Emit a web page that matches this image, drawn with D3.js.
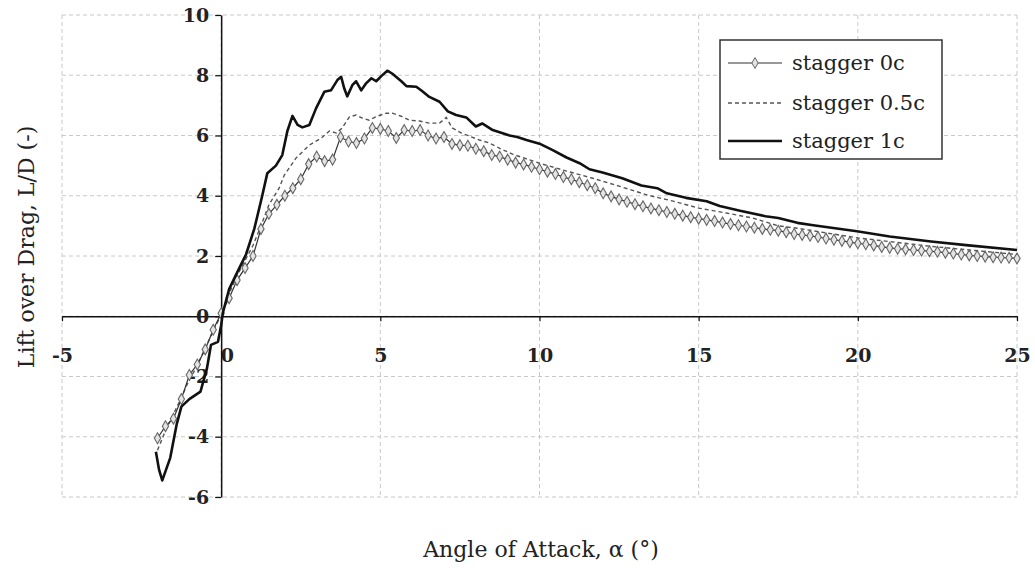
<!DOCTYPE html>
<html>
<head>
<meta charset="utf-8">
<script src="https://cdn.jsdelivr.net/npm/d3@7"></script>
<style>
  body { margin: 0; background: #fff; }
  svg { display: block; }
  .tick text { font-family: "DejaVu Serif", serif; font-weight: bold; font-size: 19px; fill: #222; }
  .grid line { stroke: #c8c8c8; stroke-dasharray: 4,3; stroke-width: 1; }
  .lbl { font-family: "DejaVu Serif", serif; font-size: 21px; fill: #222; }
</style>
</head>
<body>
<div id="chart"></div>
<script>
// angles of attack (deg) and L/D values
const angle0c = [-2, -1.75, -1.5, -1.25, -1, -0.75, -0.5, -0.25, 0, 0.25, 0.5, 0.75, 1, 1.25, 1.5, 1.75, 2, 2.25, 2.5, 2.75,
  3, 3.25, 3.5, 3.75, 4, 4.25, 4.5, 4.75, 5, 5.25, 5.5, 5.75, 6, 6.25, 6.5, 6.75, 7, 7.25, 7.5, 7.75,
  8, 8.25, 8.5, 8.75, 9, 9.25, 9.5, 9.75, 10, 10.25, 10.5, 10.75, 11, 11.25, 11.5, 11.75, 12, 12.25, 12.5, 12.75,
  13, 13.25, 13.5, 13.75, 14, 14.25, 14.5, 14.75, 15, 15.25, 15.5, 15.75, 16, 16.25, 16.5, 16.75, 17, 17.25, 17.5, 17.75,
  18, 18.25, 18.5, 18.75, 19, 19.25, 19.5, 19.75, 20, 20.25, 20.5, 20.75, 21, 21.25, 21.5, 21.75, 22, 22.25, 22.5, 22.75,
  23, 23.25, 23.5, 23.75, 24, 24.25, 24.5, 24.75, 25];
const ld0c = [-4.05, -3.65, -3.4, -2.75, -1.95, -1.6, -1.1, -0.45, 0.1, 0.6, 1.2, 1.6, 2.0, 2.9, 3.4, 3.7, 4.0, 4.25, 4.55, 5.05,
  5.3, 5.15, 5.2, 5.95, 5.8, 5.75, 5.9, 6.25, 6.22, 6.15, 5.92, 6.18, 6.15, 6.18, 6.0, 5.9, 5.95, 5.72, 5.68, 5.66,
  5.56, 5.48, 5.35, 5.3, 5.2, 5.1, 5.04, 4.96, 4.88, 4.8, 4.72, 4.62, 4.55, 4.45, 4.35, 4.25, 4.08, 3.98, 3.88, 3.8,
  3.72, 3.65, 3.58, 3.52, 3.46, 3.4, 3.34, 3.29, 3.24, 3.2, 3.16, 3.11, 3.06, 3.02, 2.98, 2.94, 2.9, 2.87, 2.84, 2.79,
  2.73, 2.7, 2.67, 2.63, 2.58, 2.54, 2.5, 2.46, 2.42, 2.39, 2.35, 2.3, 2.27, 2.24, 2.22, 2.2, 2.18, 2.16, 2.14, 2.11,
  2.08, 2.05, 2.02, 2.0, 1.98, 1.96, 1.95, 1.94, 1.92];

const angle05c = [-2, -1.75, -1.5, -1.25, -1, -0.75, -0.5, -0.25, 0, 0.25, 0.5, 0.75, 1, 1.25, 1.5, 1.82, 1.98, 2.35, 2.77, 3.14,
  3.4, 3.62, 3.8, 4.03, 4.24, 4.43, 4.65, 4.9, 5.19, 5.38, 5.66, 5.91, 6.23, 6.54, 6.86, 7.07, 7.26, 7.55, 7.8, 8.11,
  8.43, 8.74, 9.15, 10, 10.85, 11.67, 12.5, 13.4, 14.2, 15, 15.9, 16.7, 17.5, 18.1, 20, 22.3, 25];
const ld05c = [-4.45, -3.8, -3.25, -2.7, -2.1, -1.65, -1.05, -0.5, 0.05, 0.75, 1.35, 1.85, 2.35, 3.0, 3.7, 4.25, 4.68, 5.25, 5.68, 5.91,
  6.15, 6.08, 6.25, 6.62, 6.68, 6.58, 6.51, 6.64, 6.74, 6.74, 6.64, 6.51, 6.48, 6.41, 6.41, 6.6, 6.25, 6.08, 5.98, 5.85,
  5.75, 5.58, 5.38, 5.08, 4.82, 4.58, 4.32, 4.02, 3.82, 3.59, 3.42, 3.26, 3.0, 2.92, 2.6, 2.32, 2.05];

const angle1c = [-2.05, -1.95, -1.85, -1.6, -1.4, -1.25, -1, -0.65, -0.45, -0.32, -0.1, 0, 0.05, 0.25, 0.5, 0.78, 1.04, 1.29, 1.45, 1.72,
  1.92, 2.08, 2.24, 2.4, 2.55, 2.77, 2.98, 3.24, 3.45, 3.65, 3.77, 3.87, 3.96, 4.12, 4.24, 4.4, 4.56, 4.72, 4.87, 5.03,
  5.22, 5.38, 5.66, 5.82, 6.13, 6.32, 6.54, 6.86, 7.12, 7.38, 7.7, 8, 8.2, 8.53, 9.06, 9.3, 9.59, 10, 10.4, 10.85,
  11.26, 11.57, 11.98, 12.6, 13.2, 13.7, 14, 14.6, 15.25, 15.66, 16.3, 17.1, 17.5, 18.1, 18.6, 19.97, 21, 22.3, 23.4, 25];
const ld1c = [-4.5, -5.1, -5.45, -4.7, -3.6, -3.0, -2.75, -2.5, -1.75, -0.95, -0.85, -0.3, 0.1, 0.9, 1.45, 2.05, 2.9, 4.0, 4.75, 5.0,
  5.35, 6.15, 6.65, 6.35, 6.27, 6.35, 6.9, 7.45, 7.5, 7.84, 7.95, 7.55, 7.3, 7.67, 7.8, 7.5, 7.74, 7.9, 7.8, 7.97,
  8.15, 8.05, 7.8, 7.64, 7.62, 7.47, 7.28, 7.12, 6.8, 6.68, 6.6, 6.3, 6.4, 6.18, 6.0, 5.95, 5.85, 5.73, 5.52, 5.27,
  5.08, 4.88, 4.77, 4.58, 4.34, 4.25, 4.08, 3.93, 3.82, 3.66, 3.5, 3.32, 3.26, 3.1, 3.02, 2.82, 2.65, 2.48, 2.36, 2.2];

const xTicks = [-5, 0, 5, 10, 15, 20, 25];
const yTicks = [-6, -4, -2, 0, 2, 4, 6, 8, 10];
const seriesNames = ['stagger 0c', 'stagger 0.5c', 'stagger 1c'];

const W = 1035, H = 568;
const x = d3.scaleLinear().domain([-5, 25]).range([62, 1017]);
const y = d3.scaleLinear().domain([-6, 10]).range([497, 15]);

const svg = d3.select('#chart').append('svg').attr('width', W).attr('height', H);

// grid
const grid = svg.append('g').attr('class', 'grid');
grid.selectAll('.h').data(yTicks).enter().append('line')
  .attr('x1', x(-5)).attr('x2', x(25)).attr('y1', d => y(d)).attr('y2', d => y(d));
grid.selectAll('.v').data(xTicks).enter().append('line')
  .attr('y1', y(10)).attr('y2', y(-6)).attr('x1', d => x(d)).attr('x2', d => x(d));

// axes (plain hyphen minus like the original)
const fmt = d => String(d);
const xAxis = svg.append('g').attr('transform', `translate(0,${y(0)})`)
  .call(d3.axisBottom(x).tickValues(xTicks).tickSize(5).tickSizeOuter(0).tickPadding(27).tickFormat(fmt));
const yAxis = svg.append('g').attr('transform', `translate(${x(0)},0)`)
  .call(d3.axisLeft(y).tickValues(yTicks).tickSize(6).tickSizeOuter(0).tickPadding(6).tickFormat(fmt));
[xAxis, yAxis].forEach(a => {
  a.select('.domain').attr('stroke', '#111').attr('stroke-width', 1.5);
  a.selectAll('.tick line').attr('stroke', '#111').attr('stroke-width', 1.2);
});
xAxis.selectAll('.tick text').attr('dx', d => d === 0 ? '0.3em' : 0);

const line = d3.line().x(d => x(d[0])).y(d => y(d[1]));
const pts0 = d3.zip(angle0c, ld0c);
const pts05 = d3.zip(angle05c, ld05c);
const pts1 = d3.zip(angle1c, ld1c);

svg.append('path').datum(pts05).attr('d', line).attr('fill', 'none')
  .attr('stroke', '#555').attr('stroke-width', 1.4).attr('stroke-dasharray', '4,3');
svg.append('path').datum(pts0).attr('d', line).attr('fill', 'none')
  .attr('stroke', '#333').attr('stroke-width', 1.2);
const diamond = d3.symbol().type(d3.symbolDiamond).size(34);
svg.append('g').selectAll('path').data(pts0).enter().append('path')
  .attr('d', diamond)
  .attr('transform', d => `translate(${x(d[0])},${y(d[1])})`)
  .attr('fill', '#e4e4e4').attr('stroke', '#666').attr('stroke-width', 1.1);
svg.append('path').datum(pts1).attr('d', line).attr('fill', 'none')
  .attr('stroke', '#111').attr('stroke-width', 2.6).attr('stroke-linejoin', 'round');

// axis titles
svg.append('text').attr('class', 'lbl').attr('x', 541).attr('y', 557).attr('text-anchor', 'middle')
  .style('font-size', '22px').text('Angle of Attack, α (°)');
svg.append('text').attr('class', 'lbl').attr('text-anchor', 'middle').style('font-size', '22px')
  .attr('transform', 'translate(34,247) rotate(-90)').text('Lift over Drag, L/D (-)');

// legend
const lg = svg.append('g').attr('transform', 'translate(720,40)');
lg.append('rect').attr('width', 222).attr('height', 119).attr('fill', '#fff')
  .attr('stroke', '#333').attr('stroke-width', 1.5);
const rows = [23, 63, 101];
seriesNames.forEach((name, i) => {
  const r = lg.append('g').attr('transform', `translate(0,${rows[i]})`);
  const ln = r.append('line').attr('x1', 8).attr('x2', 62).attr('y1', 0).attr('y2', 0);
  if (i === 0) {
    ln.attr('stroke', '#333').attr('stroke-width', 1.2);
    r.append('path').attr('d', diamond).attr('transform', 'translate(35,0)')
      .attr('fill', '#e4e4e4').attr('stroke', '#666');
  } else if (i === 1) {
    ln.attr('stroke', '#555').attr('stroke-width', 1.4).attr('stroke-dasharray', '4,3');
  } else {
    ln.attr('stroke', '#111').attr('stroke-width', 2.6);
  }
  r.append('text').attr('class', 'lbl').attr('x', 72).attr('y', 7).text(name);
});
</script>
</body>
</html>
